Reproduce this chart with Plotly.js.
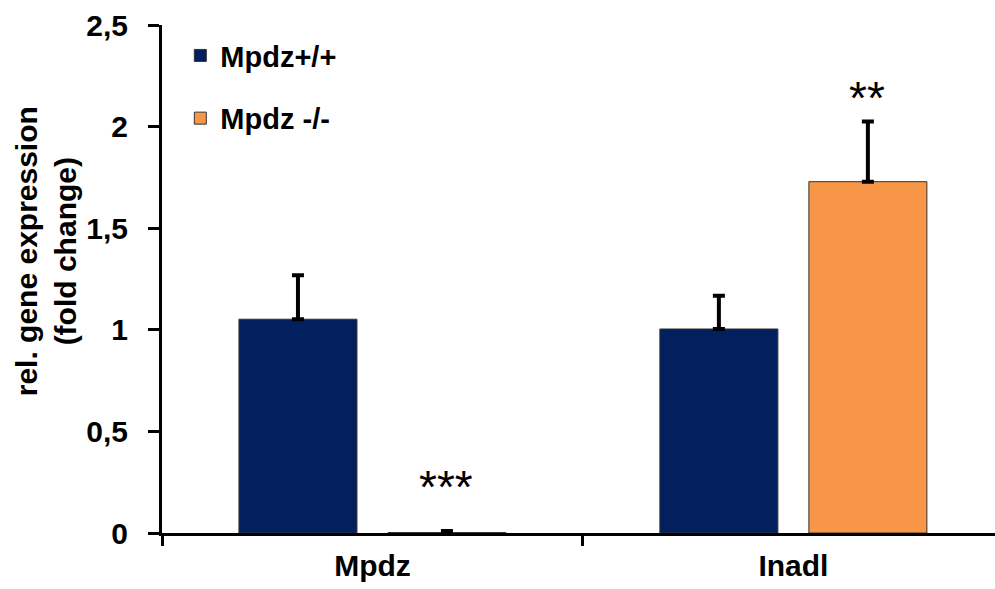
<!DOCTYPE html>
<html>
<head>
<meta charset="utf-8">
<script src="https://cdn.plot.ly/plotly-3.0.1.min.js"></script>
<style>html,body{margin:0;padding:0;background:#fff}#chart{width:995px;height:589px}</style>
</head>
<body>
<div id="chart"></div>
<script>
const categories = ["Mpdz", "Inadl"];
const seriesNames = ["Mpdz+/+", "Mpdz -/-"];
const wildType = [1.052, 1.004];
const wildTypeErr = [0.216, 0.163];
const knockout = [0.002, 1.729];
const knockoutErr = [0.008, 0.296];
const significance = ["***", "**"];
const yTitle = "rel. gene expression<br>(fold change)";
const colors = ["#02205E", "#F79646"];

const font = "Liberation Sans, Arial, sans-serif";

const traces = [
  {
    type: "bar", name: seriesNames[0], x: categories, y: wildType, legendgroup: "a",
    marker: {color: colors[0], line: {color: "#333333", width: 1}},
    error_y: {type: "data", array: wildTypeErr, arrayminus: wildTypeErr.map(() => 0), symmetric: false, color: "#000", thickness: 4, width: 6}
  },
  {
    type: "bar", name: seriesNames[1], x: categories, y: knockout, legendgroup: "b",
    marker: {color: colors[1], line: {color: "#333333", width: 1}},
    error_y: {type: "data", array: knockoutErr, arrayminus: knockoutErr.map(() => 0), symmetric: false, color: "#000", thickness: 4, width: 6}
  }
];

const annotations = significance.map((s, i) => ({
  x: i, y: knockout[i] + knockoutErr[i], xref: "x", yref: "y",
  text: s, showarrow: false, xshift: 74, yshift: i === 0 ? 44 : 24,
  font: {family: font, size: 46, color: "#000"}
}));
annotations.push({
  xref: "paper", yref: "paper", x: -0.139, y: 0.555, xanchor: "center", yanchor: "middle",
  text: yTitle, textangle: -90, showarrow: false, align: "center",
  font: {family: font, size: 30, color: "#000", weight: "bold"}
});

const layout = {
  width: 995, height: 589,
  margin: {l: 162, r: 0, t: 25, b: 56},
  paper_bgcolor: "#fff", plot_bgcolor: "#fff",
  separators: ",.",
  barmode: "group", bargap: 0.292, bargroupgap: 0.208,
  showlegend: true,
  legend: {x: 0.022, y: 0.99, xanchor: "left", yanchor: "top", tracegroupgap: 22,
    font: {family: font, size: 29, color: "#000", weight: "bold"}, bgcolor: "rgba(0,0,0,0)"},
  xaxis: {
    type: "category", range: [-0.5, 1.479], showline: true, linecolor: "#000", linewidth: 3,
    ticks: "outside", tickson: "boundaries", ticklen: 10, tickwidth: 3, tickcolor: "#000",
    showgrid: false, zeroline: false, ticklabelstandoff: 4,
    tickfont: {family: font, size: 30, color: "#000", weight: "bold"}
  },
  yaxis: {
    range: [0, 2.5], dtick: 0.5, showline: true, linecolor: "#000", linewidth: 3,
    ticks: "outside", ticklen: 11, tickwidth: 3, tickcolor: "#000",
    showgrid: false, zeroline: false, ticklabelstandoff: 14,
    tickfont: {family: font, size: 30, color: "#000", weight: "bold"}
  },
  annotations: annotations
};

Plotly.newPlot("chart", traces, layout, {displayModeBar: false, staticPlot: true});
</script>
</body>
</html>
